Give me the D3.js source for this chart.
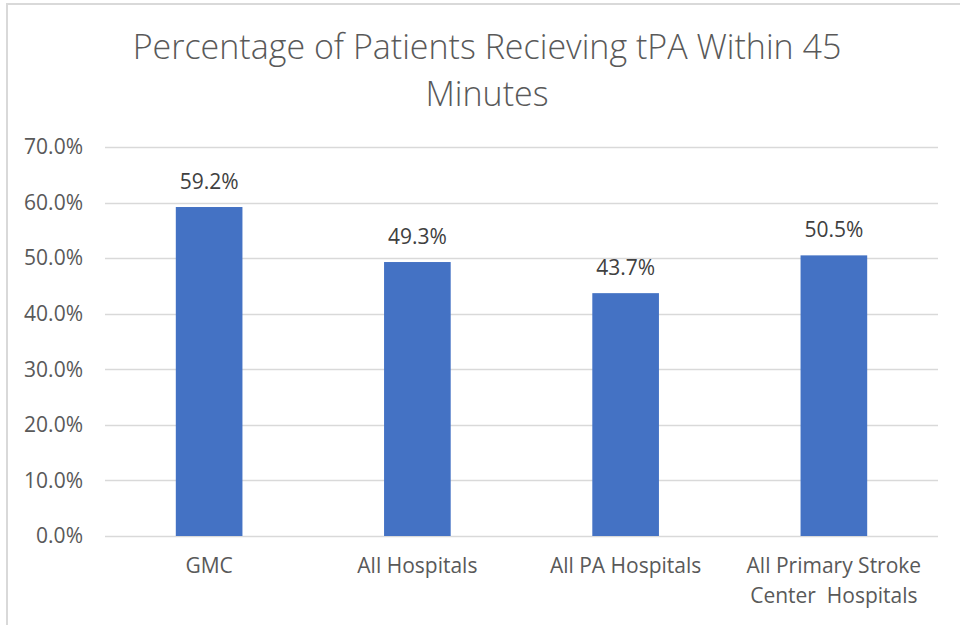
<!DOCTYPE html>
<html>
<head>
<meta charset="utf-8">
<script src="https://cdn.jsdelivr.net/npm/d3@7"></script>
<style>
body { margin: 0; background: #fff; }
</style>
</head>
<body>
<div id="my_dataviz"></div>
<script>
// chart data
var categories = ["GMC", "All Hospitals", "All PA Hospitals", "All Primary Stroke Center  Hospitals"];
var values = [0.592, 0.493, 0.437, 0.505];
var yTicks = [0, 0.1, 0.2, 0.3, 0.4, 0.5, 0.6, 0.7];
var titleLines = ["Percentage of Patients Recieving tPA Within 45", "Minutes"];

var fontFam = "'Open Sans', Lato, sans-serif";

// set the dimensions and margins of the graph
var W = 960, H = 625;
var margin = {top: 147, right: 22, bottom: 89, left: 105},
    width = W - margin.left - margin.right,
    height = H - margin.top - margin.bottom;

var root = d3.select("#my_dataviz")
    .append("svg")
    .attr("width", W)
    .attr("height", H);

// light frame around the chart area
root.append("rect")
    .attr("x", 7).attr("y", 4)
    .attr("width", W + 10).attr("height", H + 10)
    .attr("fill", "none")
    .attr("stroke", "#d9d9d9")
    .attr("stroke-width", 2);

// title
root.append("g").selectAll("text")
    .data(titleLines)
    .enter().append("text")
    .attr("x", 487)
    .attr("y", function (d, i) { return 59 + i * 47; })
    .attr("text-anchor", "middle")
    .style("font-family", fontFam)
    .style("font-weight", 300)
    .style("font-size", "34px")
    .style("fill", "#595959")
    .text(function (d) { return d; });

var svg = root.append("g")
    .attr("transform", "translate(" + margin.left + "," + margin.top + ")");

var x = d3.scaleBand()
    .domain(categories)
    .range([0, width])
    .paddingInner(0.68)
    .paddingOuter(0.34);

var y = d3.scaleLinear()
    .domain([0, 0.7])
    .range([height, 0]);

// gridlines
svg.append("g")
    .selectAll("line")
    .data(yTicks)
    .enter().append("line")
    .attr("x1", 0).attr("x2", width)
    .attr("y1", function (d) { return Math.round(y(d)) + 0.5; })
    .attr("y2", function (d) { return Math.round(y(d)) + 0.5; })
    .attr("stroke", "#d9d9d9")
    .attr("stroke-width", 1.5);

// y axis labels
var yAxis = svg.append("g")
    .attr("transform", "translate(-22,0)")
    .call(d3.axisLeft(y).tickValues(yTicks).tickSize(0).tickPadding(0).tickFormat(d3.format(".1%")));
yAxis.select(".domain").remove();
yAxis.selectAll("text")
    .style("font-family", fontFam)
    .style("font-size", "21px")
    .style("fill", "#595959");

// bars
svg.append("g")
    .selectAll("rect")
    .data(values)
    .enter().append("rect")
    .attr("x", function (d, i) { return x(categories[i]); })
    .attr("y", function (d) { return y(d); })
    .attr("width", x.bandwidth())
    .attr("height", function (d) { return height - y(d); })
    .attr("fill", "#4472c4");

// value labels
svg.append("g")
    .selectAll("text")
    .data(values)
    .enter().append("text")
    .attr("x", function (d, i) { return x(categories[i]) + x.bandwidth() / 2; })
    .attr("y", function (d) { return y(d) - 18; })
    .attr("text-anchor", "middle")
    .style("font-family", fontFam)
    .style("font-size", "21px")
    .style("fill", "#404040")
    .text(function (d) { return d3.format(".1%")(d); });

// category labels, wrap the long one
var catLines = {
    "All Primary Stroke Center  Hospitals": ["All Primary Stroke", "Center\u00a0 Hospitals"]
};
var xl = svg.append("g").selectAll("text")
    .data(categories)
    .enter().append("text")
    .attr("x", function (d) { return x(d) + x.bandwidth() / 2; })
    .attr("y", height + 37)
    .attr("text-anchor", "middle")
    .style("font-family", fontFam)
    .style("font-size", "21px")
    .style("fill", "#595959");
xl.each(function (d) {
    var lines = catLines[d] || [d];
    var t = d3.select(this);
    lines.forEach(function (s, i) {
        t.append("tspan")
            .attr("x", x(d) + x.bandwidth() / 2)
            .attr("dy", i === 0 ? 0 : 30)
            .text(s);
    });
});
</script>
</body>
</html>
